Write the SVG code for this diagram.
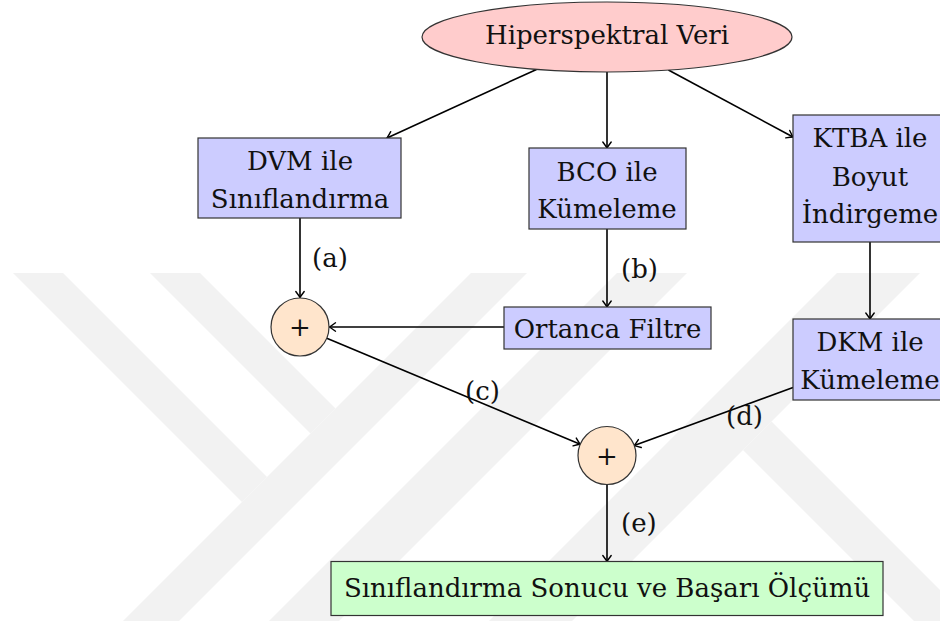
<svg xmlns="http://www.w3.org/2000/svg" width="940" height="621" viewBox="0 0 940 621">
<style>
text{font-family:"DejaVu Serif","Liberation Serif",serif;font-size:26px;fill:#111;text-anchor:middle}
.lbl{text-anchor:start}
.box{fill:#ccccff;stroke:#333;stroke-width:1.2}
.wm{fill:#f2f2f2;stroke:none}
.edge{stroke:#000;stroke-width:1.6;fill:none;marker-end:url(#arr)}
.sum{fill:#ffe5cc;stroke:#333;stroke-width:1.2}
</style>
<defs>
<marker id="arr" markerUnits="userSpaceOnUse" markerWidth="12" markerHeight="12" viewBox="-8 -6 10 12" refX="0" refY="0" orient="auto">
<path d="M-6,-4.2 Q-2,-1.2 0,0 Q-2,1.2 -6,4.2" fill="none" stroke="#000" stroke-width="1.4" stroke-linecap="round"/>
</marker>
</defs>
<rect width="940" height="621" fill="#fff"/>
<g id="watermark">
<polygon class="wm" points="13,273 63,273 267,477 242,502"/>
<polygon class="wm" points="150,273 200,273 335.5,408.5 310.5,433.5"/>
<polygon class="wm" points="471,273 527,273 179,621 123,621"/>
<polygon class="wm" points="617,273 687,273 339,621 269,621"/>
<polygon class="wm" points="837,273 920,273 572,621 489,621"/>
<polygon class="wm" points="743,450 771.5,421.5 940,590 940,621 914,621"/>
</g>
<g id="connectors">
<line class="edge" x1="536.5" y1="69.4" x2="387" y2="138"/>
<line class="edge" x1="607" y1="72" x2="607" y2="148"/>
<line class="edge" x1="668.4" y1="70" x2="793" y2="137"/>
<line class="edge" x1="300" y1="218" x2="300" y2="297.5"/>
<line class="edge" x1="607" y1="229" x2="607" y2="307"/>
<line class="edge" x1="870" y1="242" x2="870" y2="319"/>
<line class="edge" x1="504" y1="327" x2="329.5" y2="327"/>
<line class="edge" x1="326.8" y1="338.2" x2="580.2" y2="444.3"/>
<line class="edge" x1="793" y1="387.6" x2="634.2" y2="445.6"/>
<line class="edge" x1="607" y1="484.5" x2="607" y2="561.5"/>
<text class="lbl" x="312" y="267">(a)</text>
<text class="lbl" x="621" y="278">(b)</text>
<text class="lbl" x="465" y="400">(c)</text>
<text class="lbl" x="726" y="425">(d)</text>
<text class="lbl" x="621" y="532">(e)</text>
</g>
<g id="hiperspektral">
<ellipse cx="607" cy="37" rx="185" ry="35" fill="#ffcccc" stroke="#333" stroke-width="1.2"/>
<text x="607" y="44">Hiperspektral Veri</text>
</g>
<g id="dvm">
<rect class="box" x="198" y="138" width="203" height="80"/>
<text x="300" y="170">DVM ile</text>
<text x="300" y="208">Sınıflandırma</text>
</g>
<g id="bco">
<rect class="box" x="529" y="148" width="157" height="81"/>
<text x="607" y="181">BCO ile</text>
<text x="607" y="218">Kümeleme</text>
</g>
<g id="ktba">
<rect class="box" x="793" y="115" width="154" height="127"/>
<text x="870" y="147">KTBA ile</text>
<text x="870" y="186">Boyut</text>
<text x="870" y="223">İndirgeme</text>
</g>
<g id="ortanca">
<rect class="box" x="504" y="307" width="207" height="42"/>
<text x="607.5" y="338">Ortanca Filtre</text>
</g>
<g id="dkm">
<rect class="box" x="793" y="319" width="154" height="81"/>
<text x="870" y="351">DKM ile</text>
<text x="870" y="389">Kümeleme</text>
</g>
<g id="sum1">
<circle class="sum" cx="300" cy="327" r="29"/>
<text x="300" y="336">+</text>
</g>
<g id="sum2">
<circle class="sum" cx="607" cy="455.5" r="29"/>
<text x="607" y="464.5">+</text>
</g>
<g id="sonuc">
<rect x="331" y="561.5" width="552" height="54" fill="#ccffcc" stroke="#333" stroke-width="1.2"/>
<text x="607" y="597">Sınıflandırma Sonucu ve Başarı Ölçümü</text>
</g>
</svg>
